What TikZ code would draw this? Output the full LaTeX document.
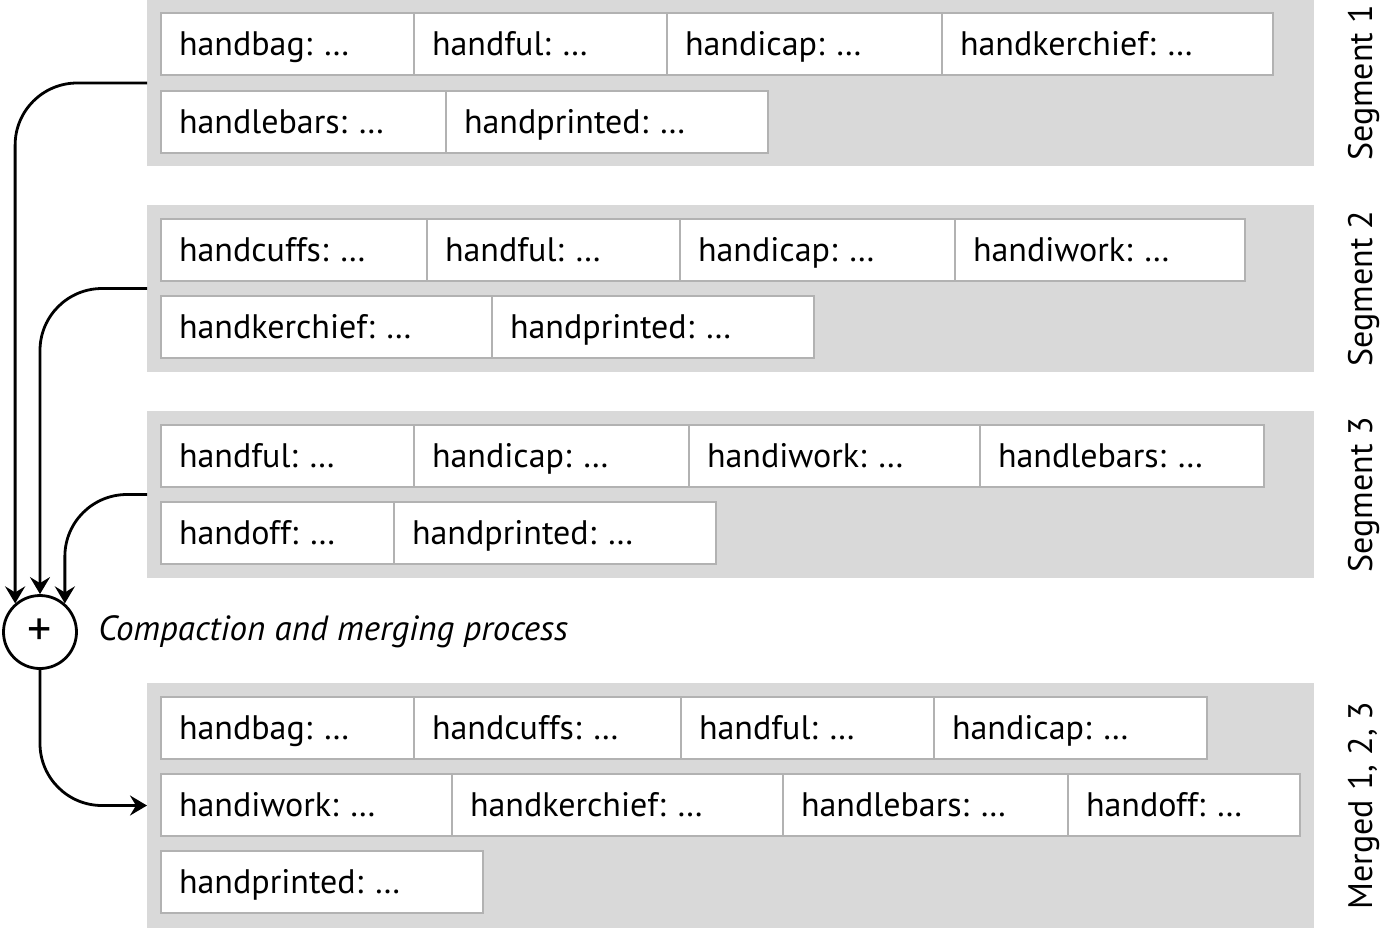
\documentclass[tikz,border=0pt]{standalone}
\usepackage{fontspec}
\setmainfont{PT Sans}
\usepackage{tikz}
\usetikzlibrary{arrows.meta,positioning,shapes.geometric}
\frenchspacing
\tikzset{
	panel/.style={
		% The shape:
		rectangle,minimum width=583.5pt,minimum height=#1,
		inner sep=0pt,outer sep=0pt,anchor=north west,
		% The filling:
		fill=black!15,
	}}
\tikzset{
	entry/.style={
		% The shape:
		rectangle,outer sep=0pt,inner xsep=9pt,inner ysep=0pt,
		% The size:
		minimum height=31pt,text width=#1-18pt,align=left,
		text height=15.5pt,text depth=4.5pt,
		% The border:
		line width=0.75pt,
		draw=black!30,
		% The filling:
		fill=white,
		font=\fontsize{17pt}{20pt}\selectfont,
	}}
\tikzset{
	seglabel/.style={
		rotate=90,anchor=base,inner sep=0pt,
		font=\fontsize{17pt}{20pt}\selectfont,
	}}
\tikzset{
	merge/.style={
		% The shape:
		shape=circle,minimum size=36.5pt,inner sep=0pt,
		% The border:
		line width=1.4pt,draw=black,
		font=\fontsize{24pt}{24pt}\selectfont,
	}}
\tikzset{
	flow/.style={
		-{Stealth[length=8.5pt,width=10pt,inset=3pt]},
		line width=1.4pt,rounded corners=31pt,
	}}

\begin{document}
\begin{tikzpicture}[x=0.5pt,y=-0.5pt]
	\useasboundingbox (0,0) rectangle (1384,928);
	% segments
	\node[panel=83pt] (seg1) at (147,0) {};
	\node[panel=83.5pt] (seg2) at (147,205) {};
	\node[panel=83.5pt] (seg3) at (147,411) {};
	\node[panel=122.5pt] (merged) at (147,683) {};
	\node[seglabel] (lab1) at ([xshift=29pt]seg1.east) {Segment 1};
	\node[seglabel] (lab2) at ([xshift=29pt]seg2.east) {Segment 2};
	\node[seglabel] (lab3) at ([xshift=29pt]seg3.east) {Segment 3};
	\node[seglabel] (labm) at ([xshift=29pt]merged.east) {Merged 1, 2, 3};
	% segment 1
	\node[entry=126.5pt,anchor=north west] (s1a) at (161,13) {handbag: …};
	\node[entry=126.5pt,right=0pt of s1a] (s1b) {handful: …};
	\node[entry=137.5pt,right=0pt of s1b] (s1c) {handicap: …};
	\node[entry=165.5pt,right=0pt of s1c] (s1d) {handkerchief: …};
	\node[entry=142.5pt,below=8pt of s1a.south west,anchor=north west] (s1e) {handlebars: …};
	\node[entry=161pt,right=0pt of s1e] (s1f) {handprinted: …};
	% segment 2
	\node[entry=133pt,anchor=north west] (s2a) at (161,219) {handcuffs: …};
	\node[entry=126.5pt,right=0pt of s2a] (s2b) {handful: …};
	\node[entry=137.5pt,right=0pt of s2b] (s2c) {handicap: …};
	\node[entry=145pt,right=0pt of s2c] (s2d) {handiwork: …};
	\node[entry=165.5pt,below=7.5pt of s2a.south west,anchor=north west] (s2e) {handkerchief: …};
	\node[entry=161pt,right=0pt of s2e] (s2f) {handprinted: …};
	% segment 3
	\node[entry=126.5pt,anchor=north west] (s3a) at (161,425) {handful: …};
	\node[entry=137.5pt,right=0pt of s3a] (s3b) {handicap: …};
	\node[entry=145.5pt,right=0pt of s3b] (s3c) {handiwork: …};
	\node[entry=142pt,right=0pt of s3c] (s3d) {handlebars: …};
	\node[entry=116.5pt,below=7.5pt of s3a.south west,anchor=north west] (s3e) {handoff: …};
	\node[entry=161pt,right=0pt of s3e] (s3f) {handprinted: …};
	% merged
	\node[entry=126.5pt,anchor=north west] (m1) at (161,697) {handbag: …};
	\node[entry=133.5pt,right=0pt of m1] (m2) {handcuffs: …};
	\node[entry=126.5pt,right=0pt of m2] (m3) {handful: …};
	\node[entry=136.5pt,right=0pt of m3] (m4) {handicap: …};
	\node[entry=145.5pt,below=7.5pt of m1.south west,anchor=north west] (m5) {handiwork: …};
	\node[entry=165.5pt,right=0pt of m5] (m6) {handkerchief: …};
	\node[entry=142.5pt,right=0pt of m6] (m7) {handlebars: …};
	\node[entry=116pt,right=0pt of m7] (m8) {handoff: …};
	\node[entry=161pt,below=7.5pt of m5.south west,anchor=north west] (m9) {handprinted: …};
	% merging
	\node[merge] (plus) at (40,632) {+};
	\node[right=10pt of plus,inner sep=0pt,font=\fontsize{17.5pt}{20pt}\itshape] (process) {Compaction and merging process};
	\draw[flow] (seg1.west) -| (plus.131);
	\draw[flow] (seg2.west) -| (plus.north);
	\draw[flow] (seg3.west) -| (plus.49);
	\draw[flow] (plus.south) |- (merged.west);
\end{tikzpicture}
\end{document}
